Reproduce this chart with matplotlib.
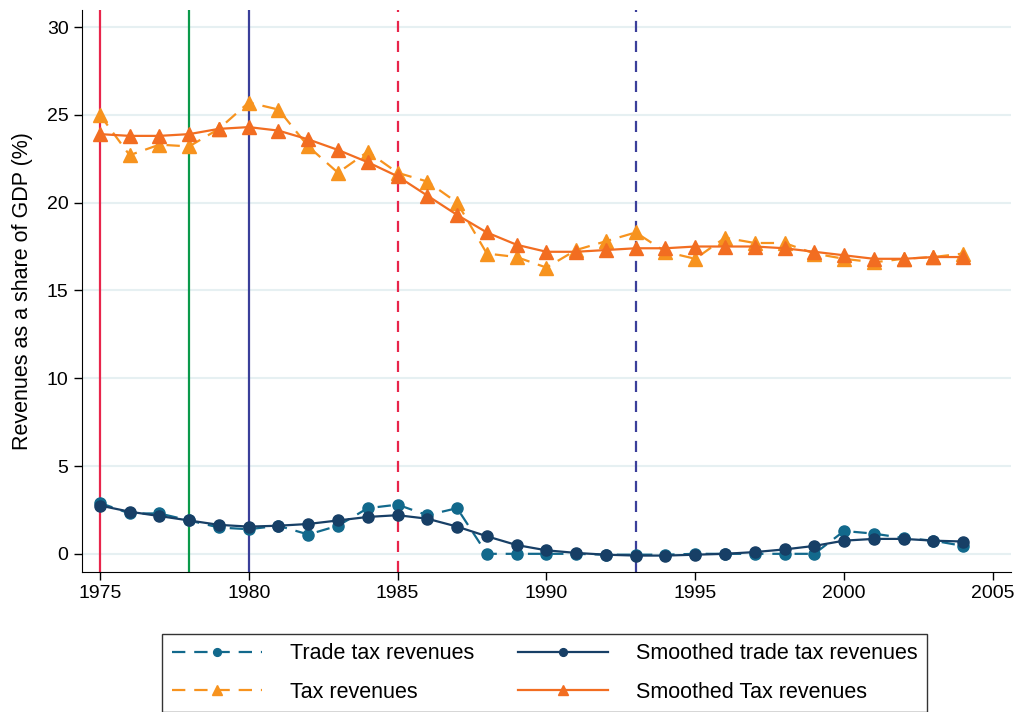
import matplotlib
matplotlib.use('Agg')
import matplotlib.pyplot as plt

plt.rcParams['font.family'] = ['Liberation Sans', 'DejaVu Sans']

years = list(range(1975, 2005))

tax = [25.0, 22.7, 23.3, 23.2, 24.2, 25.7, 25.3, 23.2, 21.7, 22.9,
       21.7, 21.2, 20.0, 17.1, 16.9, 16.3, 17.3, 17.8, 18.3, 17.2,
       16.8, 18.0, 17.7, 17.7, 17.1, 16.8, 16.6, 16.8, 16.9, 17.1]
tax_smooth = [23.9, 23.8, 23.8, 23.9, 24.2, 24.3, 24.1, 23.6, 23.0, 22.3,
              21.5, 20.4, 19.3, 18.3, 17.6, 17.2, 17.2, 17.3, 17.4, 17.4,
              17.5, 17.5, 17.5, 17.4, 17.2, 17.0, 16.8, 16.8, 16.9, 16.9]
trade = [2.9, 2.3, 2.3, 1.9, 1.5, 1.4, 1.6, 1.1, 1.6, 2.6,
         2.8, 2.2, 2.6, 0.0, 0.0, 0.0, 0.0, -0.05, -0.05, -0.05,
         0.0, 0.0, 0.0, 0.0, 0.0, 1.3, 1.15, 0.9, 0.75, 0.45]
trade_smooth = [2.75, 2.4, 2.15, 1.9, 1.65, 1.55, 1.6, 1.7, 1.9, 2.1,
                2.2, 2.0, 1.55, 1.0, 0.5, 0.2, 0.05, -0.05, -0.1, -0.1,
                -0.05, 0.0, 0.1, 0.25, 0.45, 0.75, 0.85, 0.85, 0.75, 0.7]

# reform years: (year, colour, linestyle)
events = [(1975, '#e8254b', '-'), (1978, '#0a9a4a', '-'), (1980, '#3a3f9a', '-'),
          (1985, '#e8254b', (0, (5, 4))), (1993, '#3a3f9a', (0, (5, 4)))]

fig = plt.figure(figsize=(10.21, 7.12), dpi=100)
ax = fig.add_axes([0.080, 0.197, 0.910, 0.789])

for y in range(0, 31, 5):
    ax.axhline(y, color='#e6f0f2', lw=1.5, zorder=0)

for yr, c, ls in events:
    ax.axvline(yr, color=c, ls=ls, lw=1.6, zorder=1)

dash = (0, (6, 4))
l1, = ax.plot(years, trade, color='#12698c', ls=dash, lw=1.6, marker='o', ms=8, zorder=3)
l2, = ax.plot(years, trade_smooth, color='#173f66', ls='-', lw=1.6, marker='o', ms=8, zorder=4)
l3, = ax.plot(years, tax, color='#f7931e', ls=dash, lw=1.6, marker='^', ms=10, zorder=3)
l4, = ax.plot(years, tax_smooth, color='#f26d21', ls='-', lw=1.6, marker='^', ms=10, zorder=4)

ax.set_xlim(1974.39, 2005.6)
ax.set_ylim(-1.02, 30.97)
ax.set_xticks(range(1975, 2006, 5))
ax.set_yticks(range(0, 31, 5))
ax.spines['top'].set_visible(False)
ax.spines['right'].set_visible(False)
ax.tick_params(labelsize=14, length=6, width=1)
ax.set_ylabel('Revenues as a share of GDP (%)', fontsize=15.5, labelpad=10)

# column-first fill, so order gives rows: trade / smoothed trade, tax / smoothed tax
leg = fig.legend([l1, l3, l2, l4],
                 ['Trade tax revenues', 'Tax revenues',
                  'Smoothed trade tax revenues', 'Smoothed Tax revenues'],
                 ncol=2, loc='upper left', bbox_to_anchor=(0.159, 0.110), borderaxespad=0,
                 fontsize=15.5, frameon=True, fancybox=False, edgecolor='black',
                 handlelength=4.2, handletextpad=1.3, columnspacing=2.0,
                 borderpad=0.45, labelspacing=0.8, markerscale=0.7)
leg.get_frame().set_linewidth(1.0)

fig.savefig('out.png', dpi=100)
